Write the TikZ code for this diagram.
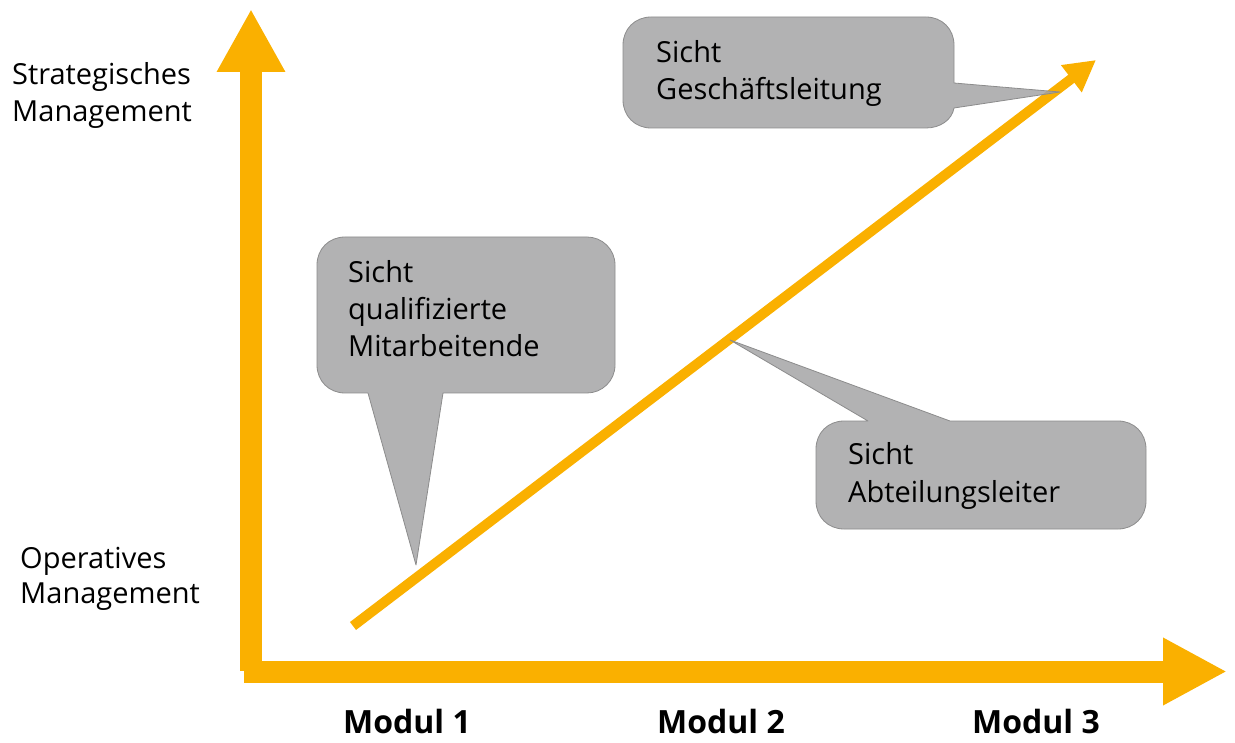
\documentclass[tikz,border=0pt]{standalone}
\usepackage{fontspec}
\setmainfont{Open Sans}
\usetikzlibrary{arrows.meta}
\definecolor{axisorange}{RGB}{250,176,0}
\definecolor{bubblefill}{RGB}{164,164,166}
\definecolor{bubbleline}{RGB}{140,140,140}
\tikzset{
  axis/.style={draw=axisorange, line width=22pt,
    -{Triangle[length=63pt,width=64pt]}, axisorange},
  trend/.style={draw=axisorange, line width=10pt,
    -{Triangle[length=31pt,width=32pt]}, axisorange},
  bubble/.style={fill=bubblefill, draw=bubbleline, line width=0.8pt,
    fill opacity=0.85, line join=round},
  lbl/.style={inner sep=0pt, anchor=base west, font=\fontsize{29}{37}\selectfont},
  modul/.style={inner sep=0pt, anchor=base west, font=\fontsize{32}{38}\selectfont\bfseries},
}
\begin{document}
\begin{tikzpicture}[x=1pt, y=-1pt]
\useasboundingbox (0,0) rectangle (1235,743);

% axes
\coordinate (yfoot) at (251,671);
\coordinate (ytip) at (251,9);
\coordinate (xfoot) at (244,671.5);
\coordinate (xtip) at (1227,671.5);
\draw[axis] (yfoot) -- (ytip);
\draw[axis,-{Triangle[length=64pt,width=63pt]}] (xfoot) -- (xtip);

% rising trend line
\coordinate (tstart) at (353,626);
\coordinate (ttip) at (1096,60);
\draw[trend, line cap=butt] (tstart) -- (ttip);

% callout: qualified staff (pointer downwards)
\path[bubble]
  (345,237) -- (587,237) .. controls (602,237) and (615,249) .. (615,265)
  -- (615,365) .. controls (615,381) and (602,393) .. (587,393)
  -- (443,393) -- (416,565) -- (368,393)
  -- (345,393) .. controls (329,393) and (317,381) .. (317,365)
  -- (317,265) .. controls (317,249) and (329,237) .. (345,237) -- cycle;

% callout: department heads (pointer up to the trend line)
\path[bubble]
  (868,421) -- (730,340) -- (950,421)
  -- (1118,421) .. controls (1134,421) and (1146,433) .. (1146,449)
  -- (1146,501) .. controls (1146,517) and (1134,529) .. (1118,529)
  -- (844,529) .. controls (828,529) and (816,517) .. (816,501)
  -- (816,449) .. controls (816,433) and (828,421) .. (844,421) -- cycle;

% callout: executive board (pointer to the right)
\path[bubble]
  (651,17) -- (926,17) .. controls (942,17) and (954,29) .. (954,45)
  -- (954,83) -- (1060,92) -- (954,108)
  .. controls (952,120) and (940,128) .. (926,128)
  -- (651,128) .. controls (635,128) and (623,116) .. (623,100)
  -- (623,45) .. controls (623,29) and (635,17) .. (651,17) -- cycle;

% callout texts
\node[lbl] (gl1) at (656,63) {Sicht};
\node[lbl] (gl2) at (656,100) {Geschäftsleitung};
\node[lbl] (qm1) at (348,283) {Sicht};
\node[lbl] (qm2) at (348,320) {qualifizierte};
\node[lbl] (qm3) at (348,357) {Mitarbeitende};
\node[lbl] (al1) at (848,464) {Sicht};
\node[lbl] (al2) at (848,502) {Abteilungsleiter};

% axis labels
\node[lbl] (sm1) at (12,85) {Strategisches};
\node[lbl] (sm2) at (12,122) {Management};
\node[lbl] (om1) at (20,568) {Operatives};
\node[lbl] (om2) at (20,603) {Management};

\node[modul] (m1) at (343,733) {Modul 1};
\node[modul] (m2) at (657,733) {Modul 2};
\node[modul] (m3) at (972,733) {Modul 3};
\end{tikzpicture}
\end{document}
